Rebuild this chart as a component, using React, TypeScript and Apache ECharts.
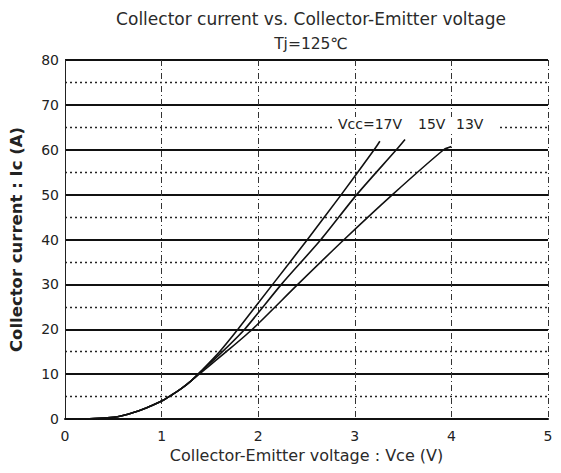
import React, { useEffect, useRef } from "react";
import * as echarts from "echarts";

const title = "Collector current vs. Collector-Emitter voltage";
const subtitle = "Tj=125℃";
const xAxisName = "Collector-Emitter voltage : Vce (V)";
const yAxisName = "Collector current : Ic (A)";
const seriesLabels = ["Vcc=17V", "15V", "13V"];

const commonPart: number[][] = [
  [0, 0], [0.3, 0.1], [0.5, 0.4], [0.6, 0.8], [0.7, 1.4], [0.8, 2.1],
  [0.9, 3.0], [1.0, 4.0], [1.1, 5.3], [1.2, 6.7], [1.3, 8.4],
];
const vcc17: number[][] = [
  [1.4, 10.5], [1.6, 15], [1.79, 20], [2.15, 30], [2.51, 40], [2.86, 50], [3.2, 60], [3.26, 61.9],
];
const vcc15: number[][] = [
  [1.4, 10.4], [1.63, 15], [1.86, 20], [2.24, 30], [2.65, 40], [3.02, 50], [3.43, 60], [3.52, 62.3],
];
const vcc13: number[][] = [
  [1.4, 10.2], [1.67, 15], [1.94, 20], [2.41, 30], [2.89, 40], [3.39, 50], [3.92, 60], [4.0, 60.7],
];

const FONT = "DejaVu Sans";

export default function App() {
  const ref = useRef<HTMLDivElement>(null);
  useEffect(() => {
    if (!ref.current) return;
    const chart = echarts.init(ref.current, undefined, { renderer: "svg" });
    const mk = (name: string, pts: number[][]) => ({
      name,
      type: "line",
      data: [...commonPart, ...pts],
      smooth: 0.25,
      showSymbol: false,
      lineStyle: { color: "#111", width: 1.6 },
      z: 5,
    });
    const labelX = [338, 418, 456];
    chart.setOption({
      animation: false,
      backgroundColor: "#fff",
      title: [
        {
          text: title,
          left: 306,
          top: 5,
          textAlign: "center",
          textStyle: { fontFamily: FONT, fontSize: 17, fontWeight: "normal", color: "#2a2a2a" },
        },
        {
          text: subtitle,
          left: 306,
          top: 31,
          textAlign: "center",
          textStyle: { fontFamily: FONT, fontSize: 15.5, fontWeight: "normal", color: "#2a2a2a" },
        },
      ],
      grid: { left: 64, right: 13, top: 60, bottom: 54 },
      xAxis: {
        type: "value",
        min: 0,
        max: 5,
        interval: 1,
        name: xAxisName,
        nameLocation: "middle",
        nameGap: 27,
        nameTextStyle: { fontFamily: FONT, fontSize: 16, color: "#2a2a2a" },
        axisLine: { show: true, lineStyle: { color: "#111", width: 2 } },
        axisTick: { show: false },
        axisLabel: { fontFamily: FONT, fontSize: 14, color: "#222", margin: 10 },
        splitLine: { show: true, lineStyle: { color: "#333", width: 1, type: [6, 3, 1, 3] } },
      },
      yAxis: {
        type: "value",
        min: 0,
        max: 80,
        interval: 10,
        name: yAxisName,
        nameLocation: "middle",
        nameGap: 40,
        nameRotate: 90,
        nameTextStyle: { fontFamily: FONT, fontSize: 16.5, fontWeight: "bold", color: "#222" },
        axisLine: { show: true, lineStyle: { color: "#222", width: 1 } },
        axisTick: { show: false },
        axisLabel: { fontFamily: FONT, fontSize: 14, color: "#222", margin: 6 },
        splitLine: { show: true, lineStyle: { color: "#111", width: 2 } },
        minorTick: { show: false, splitNumber: 2 },
        minorSplitLine: { show: true, lineStyle: { color: "#222", width: 1.3, type: [2, 3] } },
      },
      graphic: [
        {
          type: "rect",
          shape: { x: 334, y: 117, width: 166, height: 15 },
          style: { fill: "#fff" },
          z: 9,
        },
        ...seriesLabels.map((t, i) => ({
          type: "text",
          left: labelX[i],
          top: 117,
          z: 10,
          style: { text: t, fontFamily: FONT, fontSize: 14, fill: "#222" },
        })),
      ],
      series: [mk("17V", vcc17), mk("15V", vcc15), mk("13V", vcc13)],
    });
    return () => chart.dispose();
  }, []);
  return <div ref={ref} style={{ width: 561, height: 473, margin: -8 }} />;
}
